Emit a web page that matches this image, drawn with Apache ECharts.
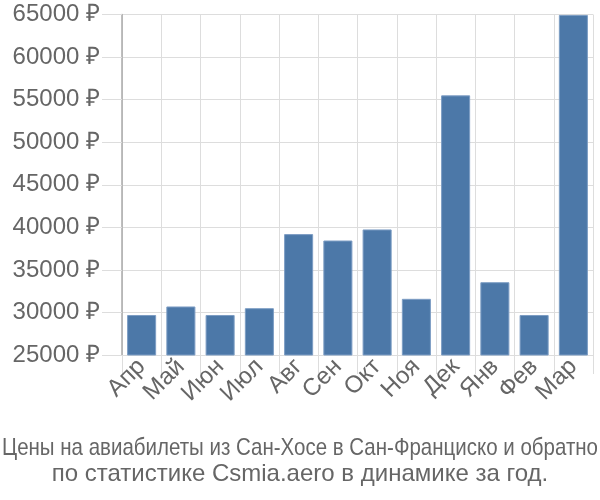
<!DOCTYPE html>
<html>
<head>
<meta charset="utf-8">
<script src="https://cdn.jsdelivr.net/npm/echarts@6/dist/echarts.min.js"></script>
<style>html,body{margin:0;padding:0;background:#fff;}#c{width:600px;height:500px;}</style>
</head>
<body>
<div id="c"></div>
<script>
const months = ["Апр","Май","Июн","Июл","Авг","Сен","Окт","Ноя","Дек","Янв","Фев","Мар"];
const prices = [29700, 30700, 29700, 30500, 39200, 38450, 39750, 31600, 55500, 33550, 29700, 64950];
const yTicks = [25000, 30000, 35000, 40000, 45000, 50000, 55000, 60000, 65000];
const titleLine1 = "Цены на авиабилеты из Сан-Хосе в Сан-Франциско и обратно";
const titleLine2 = "по статистике Csmia.aero в динамике за год.";

const FONT = 'Liberation Sans';
const titleFont = '24px "' + FONT + '"';
const ctx = document.createElement('canvas').getContext('2d');
ctx.font = titleFont;
const w1 = ctx.measureText(titleLine1).width;
const s1 = Math.min(1, 596 / w1);

const chart = echarts.init(document.getElementById('c'), null, {renderer: 'canvas'});
chart.setOption({
  animation: false,
  graphic: [
    {type: 'text', x: 300, y: 448, scaleX: s1, style: {text: titleLine1, font: titleFont, fill: '#666', align: 'center', verticalAlign: 'middle'}},
    {type: 'text', x: 300, y: 474, style: {text: titleLine2, font: titleFont, fill: '#666', align: 'center', verticalAlign: 'middle'}}
  ],
  grid: {left: 122, right: 7, top: 14.5, bottom: 145, containLabel: false},
  xAxis: {
    type: 'category',
    data: months,
    boundaryGap: true,
    axisLine: {show: true, lineStyle: {color: '#ddd', width: 1}},
    axisTick: {show: true, length: 19, lineStyle: {color: '#ddd'}},
    splitLine: {show: true, lineStyle: {color: '#ddd', width: 1}},
    axisLabel: {rotate: 45, fontFamily: FONT, fontSize: 24, color: '#666', margin: 8, interval: 0}
  },
  yAxis: {
    type: 'value',
    min: yTicks[0],
    max: yTicks[yTicks.length - 1],
    interval: 5000,
    axisLine: {show: true, lineStyle: {color: '#aaa', width: 1.5}},
    axisTick: {show: true, length: 20, lineStyle: {color: '#ddd'}},
    splitLine: {show: true, lineStyle: {color: '#ddd', width: 1}},
    axisLabel: {fontFamily: FONT, fontSize: 24, color: '#666', margin: 22, formatter: v => v + ' ₽'}
  },
  series: [{
    type: 'bar',
    data: prices,
    barCategoryGap: '26%',
    itemStyle: {color: '#4c78a8', borderColor: '#7d9dc4', borderWidth: 1}
  }]
});
</script>
</body>
</html>
